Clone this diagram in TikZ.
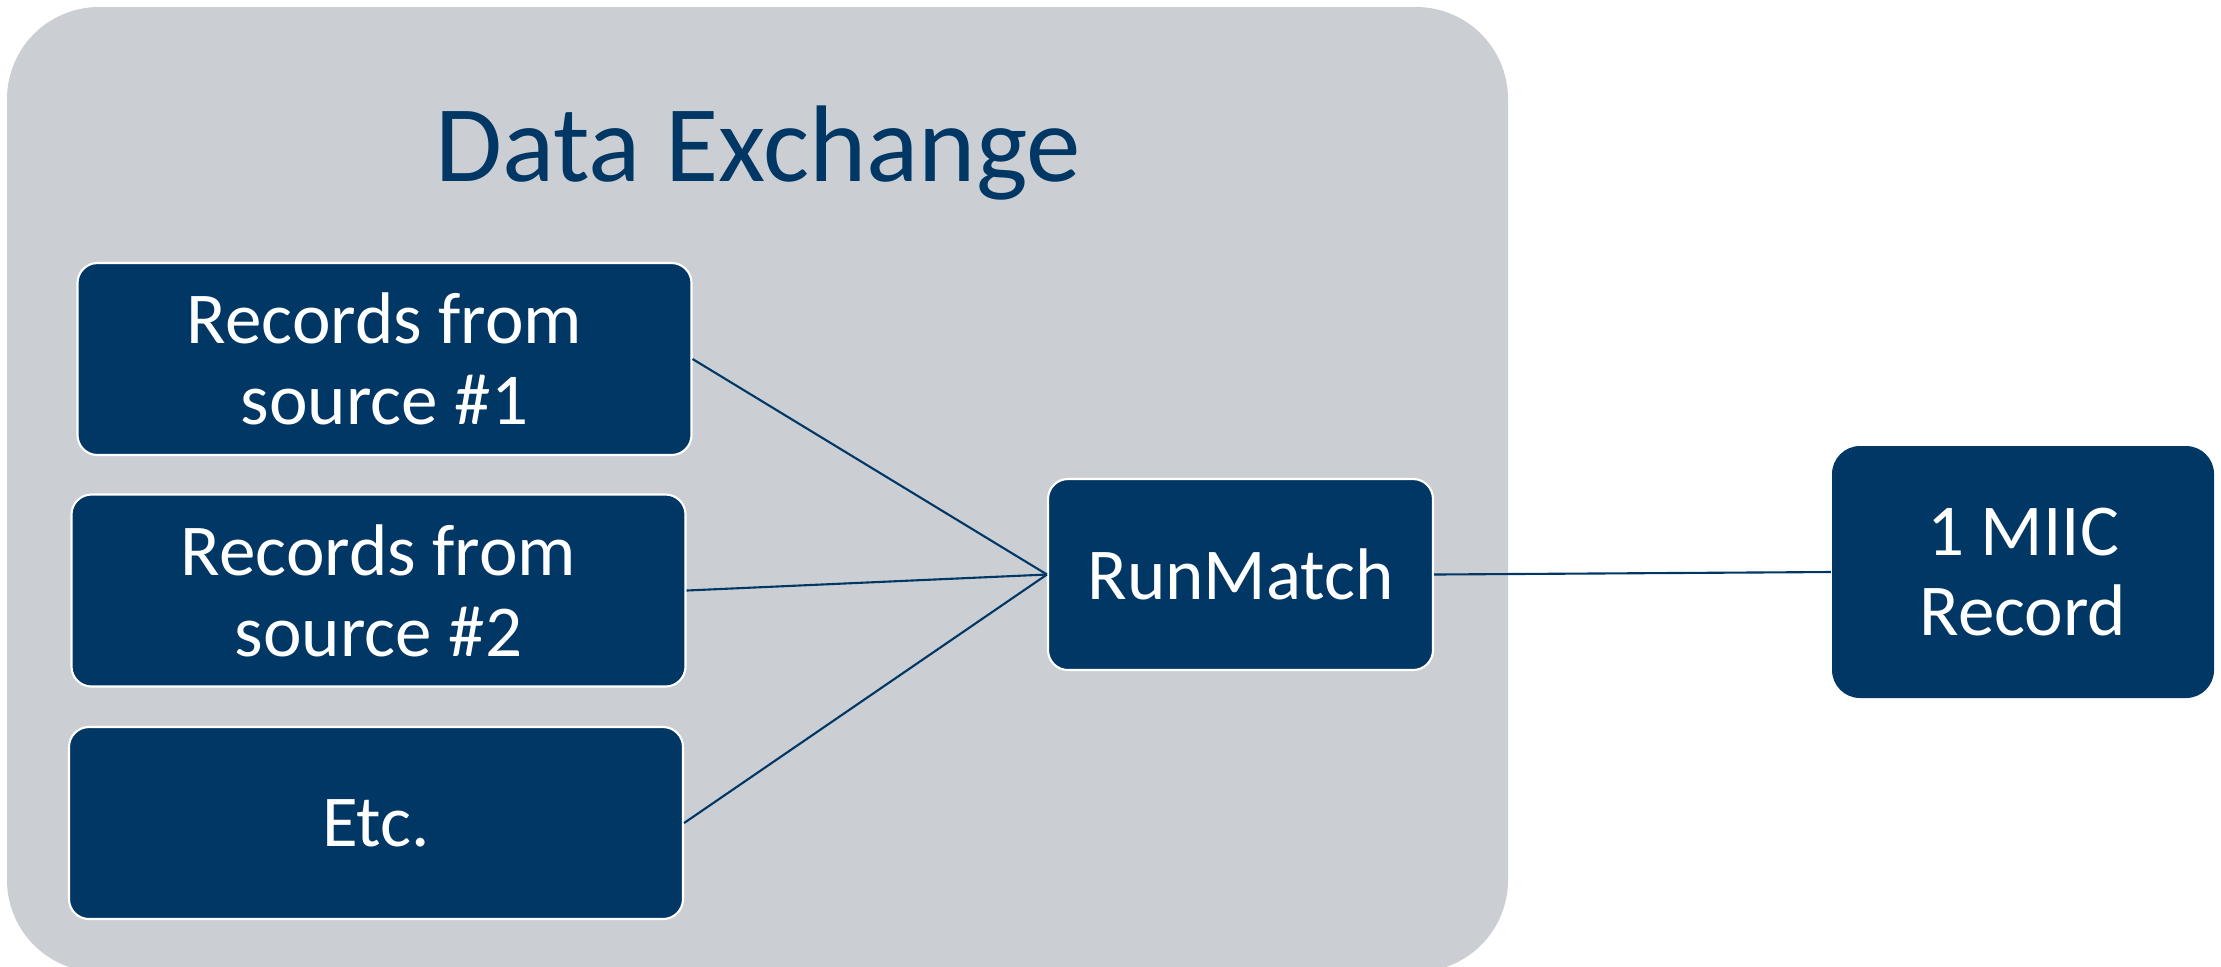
\documentclass[tikz,border=0pt]{standalone}
\usepackage{fontspec}
\setmainfont{Carlito}
\usetikzlibrary{positioning,calc}

\definecolor{navy}{RGB}{0,55,100}
\definecolor{exgray}{RGB}{203,206,211}

\begin{document}
\begin{tikzpicture}[
    src/.style={rectangle, rounded corners=0.2cm, fill=navy, draw=white, line width=0.6pt,
      text=white, align=center, inner sep=0pt, minimum width=6.14cm, minimum height=1.92cm,
      font=\fontsize{20.8}{23}\selectfont},
    hub/.style={src, minimum width=3.85cm, minimum height=1.91cm},
    result/.style={src, draw=none, rounded corners=0.28cm, minimum width=3.82cm, minimum height=2.52cm},
    link/.style={draw=navy, line width=0.6pt}]
  \useasboundingbox (0,0) rectangle (22.21,-9.66);
  \fill[exgray, rounded corners=0.92cm] (0.07,-0.07) rectangle (15.08,-9.72);

  \node[text=navy, font=\fontsize{31}{35}\selectfont, anchor=base] (title) at (7.58,-1.81) {Data Exchange};

  \node[src] (src1) at (3.845,-3.59) {Records from\\source \#1};
  \node[src] (src2) at (3.785,-5.905) {Records from\\source \#2};
  \node[src] (src3) at (3.76,-8.23) {Etc.};
  \node[hub] (match) at (12.405,-5.745) {RunMatch};
  \node[result] (miic) at (20.23,-5.72) {1 MIIC\\Record};

  \path[link] (src1.east) edge (match.west);
  \path[link] (src2.east) edge (match.west);
  \path[link] (src3.east) edge (match.west);
  \path[link] (match.east) edge (miic.west);
\end{tikzpicture}
\end{document}
